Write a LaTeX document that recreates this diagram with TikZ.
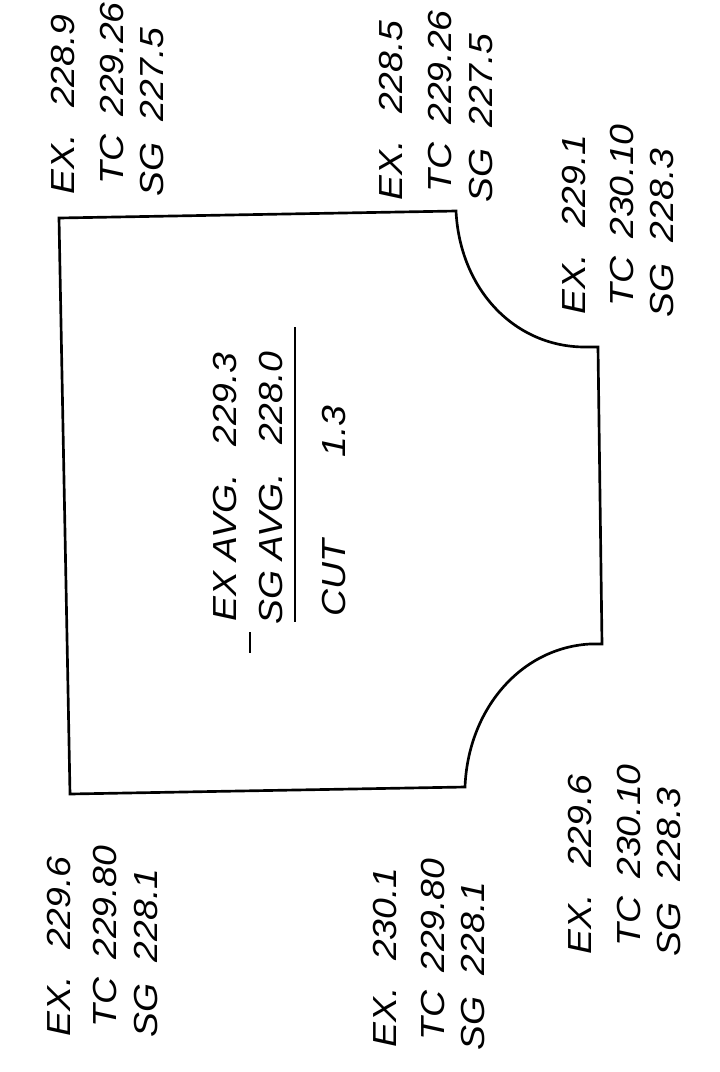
\documentclass[tikz,border=0pt]{standalone}
\usepackage{fontspec}
\setmainfont[FakeStretch=1.12]{Liberation Sans}
\usepackage{tikz}

\begin{document}
\begin{tikzpicture}[x=0.75pt, y=-0.75pt]
\tikzset{lbl/.style={rotate=90, anchor=base west, inner sep=0pt, font=\fontsize{25}{30}\selectfont\itshape}}
\tikzset{ligne/.style={line width=2pt, line join=miter}}
\useasboundingbox (0, 0) rectangle (719, 1072);
\draw[ligne] (59, 218) -- (456, 211) .. controls (460, 290) and (515, 347) .. (585, 347) -- (598, 347) -- (602, 644) -- (590, 644) .. controls (520, 648) and (468, 710) .. (465, 787) -- (70, 794) -- cycle;
\node[lbl] (EX1) at (74, 195) {EX.\hspace{.8em}228.9};
\node[lbl] (TC1) at (123, 185) {TC\hspace{.55em}229.26};
\node[lbl] (SG1) at (163, 197) {SG\hspace{.65em}227.5};
\node[lbl] (EX2) at (402, 201) {EX.\hspace{.8em}228.5};
\node[lbl] (TC2) at (451, 193) {TC\hspace{.55em}229.26};
\node[lbl] (SG2) at (492, 203) {SG\hspace{.65em}227.5};
\node[lbl] (EX3) at (585, 315) {EX.\hspace{.8em}229.1};
\node[lbl] (TC3) at (633, 307) {TC\hspace{.55em}230.10};
\node[lbl] (SG3) at (673, 318) {SG\hspace{.65em}228.3};
\node[lbl] (EX4) at (591, 955) {EX.\hspace{.8em}229.6};
\node[lbl] (TC4) at (640, 947) {TC\hspace{.55em}230.10};
\node[lbl] (SG4) at (680, 957) {SG\hspace{.65em}228.3};
\node[lbl] (EX5) at (396, 1048) {EX.\hspace{.8em}230.1};
\node[lbl] (TC5) at (444, 1041) {TC\hspace{.55em}229.80};
\node[lbl] (SG5) at (484, 1051) {SG\hspace{.65em}228.1};
\node[lbl] (EX6) at (70, 1037) {EX.\hspace{.8em}229.6};
\node[lbl] (TC6) at (116, 1028) {TC\hspace{.55em}229.80};
\node[lbl] (SG6) at (157, 1038) {SG\hspace{.65em}228.1};
\node[lbl] (EXA) at (236, 622) {EX AVG.\hspace{.85em}229.3};
\node[lbl] (SGA) at (282, 625) {SG AVG.\hspace{.85em}228.0};
\node[lbl] (CUT) at (345, 617) {CUT};
\node[lbl] (VAL) at (345, 458) {1.3};
\coordinate (L1) at (295, 327);
\coordinate (L2) at (295, 622);
\coordinate (M1) at (250, 632);
\coordinate (M2) at (250, 653);
\draw[ligne] (L1) -- (L2);
\draw[ligne] (M1) -- (M2);
\end{tikzpicture}
\end{document}
